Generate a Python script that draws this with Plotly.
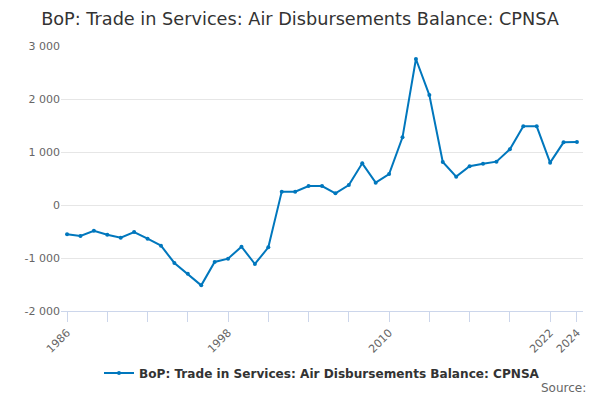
import plotly.graph_objects as go

years = list(range(1986, 2025))
balance = [
    -553, -585, -485, -560, -617, -509, -635, -767, -1094, -1296,
    -1516, -1075, -1012, -786, -1113, -799, 252, 252, 358, 358,
    220, 377, 786, 421, 585, 1277, 2755, 2075, 811, 535,
    730, 780, 818, 1050, 1484, 1484, 799, 1182, 1189,
]
tick_years = list(range(1986, 2023, 3)) + [2024]
labelled_years = [1986, 1998, 2010, 2022, 2024]
tick_labels = [str(y) if y in labelled_years else "" for y in tick_years]
y_ticks = [-2000, -1000, 0, 1000, 2000, 3000]
y_labels = ["-2 000", "-1 000", "0", "1 000", "2 000", "3 000"]

series_name = "BoP: Trade in Services: Air Disbursements Balance: CPNSA"

fig = go.Figure()
fig.add_trace(
    go.Scatter(
        x=years,
        y=balance,
        mode="lines+markers",
        name=series_name,
        line=dict(color="#0077bd", width=2),
        marker=dict(color="#0077bd", size=4),
    )
)

fig.update_layout(
    width=600,
    height=400,
    margin=dict(l=61, r=17, t=46, b=89, autoexpand=False),
    paper_bgcolor="white",
    plot_bgcolor="white",
    font=dict(family="DejaVu Sans", color="#333333"),
    title=dict(
        text=series_name,
        x=0.5,
        xanchor="center",
        y=0.953,
        yanchor="middle",
        font=dict(size=17.7, color="#333333"),
        automargin=False,
    ),
    showlegend=True,
    legend=dict(
        orientation="h",
        x=0.5,
        xanchor="center",
        y=-0.234,
        yanchor="middle",
        itemwidth=30,
        font=dict(size=12.1, color="#333333", weight="bold"),
    ),
    annotations=[
        dict(
            text="Source:",
            xref="paper",
            yref="paper",
            x=1.01,
            xanchor="right",
            y=-0.292,
            yanchor="middle",
            showarrow=False,
            font=dict(size=12, color="#666666"),
        )
    ],
)

fig.update_xaxes(
    range=[1985.55, 2024.45],
    tickmode="array",
    tickvals=tick_years,
    ticktext=tick_labels,
    tickangle=-45,
    ticks="outside",
    ticklen=10,
    tickcolor="#ccd6eb",
    showline=True,
    linecolor="#ccd6eb",
    linewidth=1,
    showgrid=False,
    zeroline=False,
    automargin=False,
    tickfont=dict(size=11, color="#666666"),
)
fig.update_yaxes(
    range=[-2000, 3000],
    tickmode="array",
    tickvals=y_ticks,
    ticktext=y_labels,
    showgrid=True,
    gridcolor="#e6e6e6",
    zeroline=False,
    showline=False,
    ticks="",
    automargin=False,
    tickfont=dict(size=11, color="#666666"),
)

# the page has a default body margin of 8px; drop it so the chart sits at 0,0
fig.write_html(
    "out.html",
    config={"displayModeBar": False},
    post_script="document.body.style.margin='0';",
)
